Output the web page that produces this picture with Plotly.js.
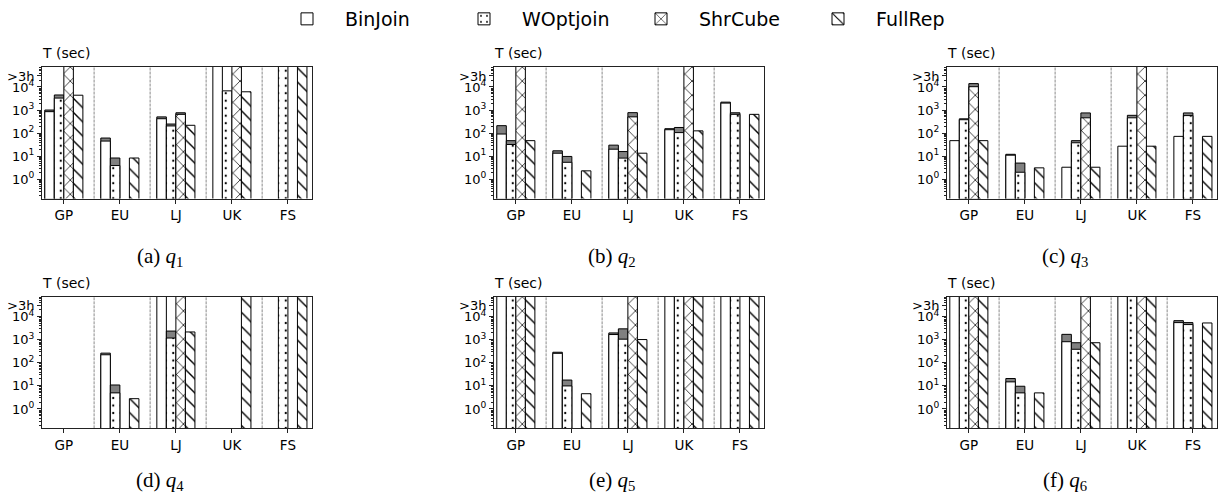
<!DOCTYPE html>
<html>
<head>
<meta charset="utf-8">
<script src="https://cdn.plot.ly/plotly-3.0.1.min.js"></script>
<style>html,body{margin:0;padding:0;background:#fff;}#chart{width:1225px;height:502px;}</style>
</head>
<body>
<div id="chart"></div>
<script>
// ---------------- data ----------------
const categories = ['GP', 'EU', 'LJ', 'UK', 'FS'];
const methods = ['BinJoin', 'WOptjoin', 'ShrCube', 'FullRep'];
const TO = 1e6;   // ">3h" timeout: bar runs past the top of the axis
const N = null;   // not run

// rows: BinJoin, WOptjoin, ShrCube, FullRep ; columns: GP, EU, LJ, UK, FS
const q1_compute = [
  [850, 45, 420, TO, N],
  [3300, 3.9, 204, 6800, TO],
  [TO, N, 650, TO, N],
  [4400, 8.3, 218, 6200, TO]
];
const q1_total = [
  [1000, 61, 505, TO, N],
  [4500, 8.3, 247, 6800, TO],
  [TO, N, 760, TO, N],
  [4400, 8.3, 218, 6200, TO]
];

const q2_compute = [
  [91, 13.4, 20, 140, 2000],
  [32, 5.4, 8.2, 105, 650],
  [TO, N, 505, TO, N],
  [47, 2.3, 13.4, 125, 650]
];
const q2_total = [
  [210, 17, 30, 155, 2200],
  [47, 9.7, 15.8, 175, 760],
  [TO, N, 770, TO, N],
  [47, 2.3, 13.4, 125, 650]
];

const q3_compute = [
  [47, 11, 3.3, 27, 72],
  [380, 2.0, 38, 460, 575],
  [10300, N, 460, TO, N],
  [47, 3.1, 3.3, 27, 72]
];
const q3_total = [
  [47, 12, 3.3, 27, 72],
  [415, 5.0, 47, 590, 750],
  [14000, N, 750, TO, N],
  [47, 3.1, 3.3, 27, 72]
];

const q4_compute = [
  [N, 225, TO, N, N],
  [N, 5.0, 1200, N, TO],
  [N, N, TO, N, N],
  [N, 2.8, 2200, TO, TO]
];
const q4_total = [
  [N, 265, TO, N, N],
  [N, 11, 2400, N, TO],
  [N, N, TO, N, N],
  [N, 2.8, 2200, TO, TO]
];

const q5_compute = [
  [TO, 260, 1700, TO, TO],
  [TO, 10, 1070, TO, TO],
  [TO, N, TO, TO, N],
  [TO, 4.6, 1030, TO, TO]
];
const q5_total = [
  [TO, 290, 2000, TO, TO],
  [TO, 18, 3000, TO, TO],
  [TO, N, TO, TO, N],
  [TO, 4.6, 1030, TO, TO]
];

const q6_compute = [
  [TO, 15, 830, TO, 5600],
  [TO, 5.0, 390, TO, 4600],
  [TO, N, TO, TO, N],
  [TO, 5.0, 750, TO, 5400]
];
const q6_total = [
  [TO, 21, 1730, TO, 6800],
  [TO, 9.7, 750, TO, 5600],
  [TO, N, TO, TO, N],
  [TO, 5.0, 750, TO, 5400]
];

const yTickVals = [1, 10, 100, 1000, 10000, 30000];
const yTickText = ['10<sup>0</sup>', '10<sup>1</sup>', '10<sup>2</sup>', '10<sup>3</sup>', '10<sup>4</sup>', '>3h'];
const captionLetters = ['a', 'b', 'c', 'd', 'e', 'f'];

// ---------------- layout helpers ----------------
const W = 1225, H = 502;
const colPx = [[42, 312], [494, 764], [947, 1217]];
const rowPx = [[59, 193], [293, 427]];
const captionX = [160, 612, 1065];
const captionY = [253, 481];
const SEP_OFFSET = 0.54;

const panels = [
  [q1_compute, q1_total], [q2_compute, q2_total], [q3_compute, q3_total],
  [q4_compute, q4_total], [q5_compute, q5_total], [q6_compute, q6_total]
];

const patternStyle = {
  BinJoin:  {shape: ''},
  WOptjoin: {shape: '.', size: 7.5, solidity: 0.07},
  ShrCube:  {shape: 'x', size: 10, solidity: 0.14},
  FullRep:  {shape: '\\', size: 10, solidity: 0.14}
};

const traces = [];
const layout = {
  width: W, height: H,
  margin: {l: 0, r: 0, t: 0, b: 0},
  paper_bgcolor: '#fff', plot_bgcolor: '#fff',
  font: {family: 'DejaVu Sans', size: 13, color: '#000'},
  barmode: 'group', bargap: 0.32, bargroupgap: 0,
  showlegend: true,
  legend: {
    orientation: 'h', x: 269 / W, xanchor: 'left', y: 1 - 10 / H, yanchor: 'middle',
    font: {family: 'DejaVu Sans', size: 19, color: '#000'},
    itemwidth: 66, entrywidth: 96, entrywidthmode: 'pixels', bgcolor: 'rgba(0,0,0,0)'
  },
  shapes: [], annotations: []
};

panels.forEach((p, k) => {
  const [comp, tot] = p;
  const r = Math.floor(k / 3), c = k % 3;
  const xa = k === 0 ? 'x' : 'x' + (k + 1);
  const ya = k === 0 ? 'y' : 'y' + (k + 1);
  const xkey = k === 0 ? 'xaxis' : 'xaxis' + (k + 1);
  const ykey = k === 0 ? 'yaxis' : 'yaxis' + (k + 1);

  methods.forEach((m, mi) => {
    // communication (grey) part: drawn first, full height to total
    const grey = tot[mi].map((t, i) => (t !== null && comp[mi][i] !== null && t > comp[mi][i]) ? t : null);
    traces.push({
      type: 'bar', x: categories, y: grey, xaxis: xa, yaxis: ya,
      offsetgroup: m, name: m + ' comm', showlegend: false, hoverinfo: 'skip',
      marker: {color: '#808080', line: {color: '#000', width: 1}}
    });
    const ps = patternStyle[m];
    const pat = ps.shape ? {shape: ps.shape, size: ps.size, solidity: ps.solidity, fgcolor: '#000', bgcolor: '#fff', fillmode: 'replace'} : {shape: ''};
    traces.push({
      type: 'bar', x: categories, y: comp[mi], xaxis: xa, yaxis: ya,
      offsetgroup: m, name: m, showlegend: k === 0, legendgroup: m,
      marker: {color: '#fff', line: {color: '#000', width: 1}, pattern: pat}
    });
  });

  layout[xkey] = {
    domain: [colPx[c][0] / W, colPx[c][1] / W],
    anchor: ya, type: 'category', range: [-0.39, 4.43],
    showline: true, mirror: true, linecolor: '#222', linewidth: 1,
    ticks: 'outside', ticklen: 4, tickcolor: '#222', showgrid: false, zeroline: false,
    tickfont: {size: 13.5}, fixedrange: true
  };
  const minorVals = [];
  for (let e = -1; e <= 4; e++) for (let d = 2; d <= 9; d++) minorVals.push(d * Math.pow(10, e));
  layout[ykey] = {
    domain: [1 - rowPx[r][1] / H, 1 - rowPx[r][0] / H],
    anchor: xa, type: 'log', range: [-0.84, 4.87],
    showline: true, mirror: true, linecolor: '#222', linewidth: 1,
    tickmode: 'array', tickvals: yTickVals, ticktext: yTickText,
    ticks: 'outside', ticklen: 4, tickcolor: '#222', showgrid: false, zeroline: false,
    tickfont: {size: 13}, fixedrange: true,
    minor: {tickmode: 'array', tickvals: minorVals, ticks: 'outside', ticklen: 2, tickcolor: '#222', showgrid: false}
  };

  // dashed separators between dataset groups
  for (let i = 0; i < categories.length - 1; i++) {
    layout.shapes.push({
      type: 'line', xref: xa, yref: ya + ' domain', x0: i + SEP_OFFSET, x1: i + SEP_OFFSET, y0: 0, y1: 1,
      line: {color: '#8a8a8a', width: 1, dash: '3px,1px'}, layer: 'below'
    });
  }

  // axis title "T (sec)" above the axis
  layout.annotations.push({
    text: 'T (sec)', xref: xa + ' domain', yref: ya + ' domain', x: 0, y: 1,
    xanchor: 'left', yanchor: 'bottom', xshift: -2, yshift: 4, showarrow: false,
    font: {family: 'DejaVu Sans', size: 14, color: '#000'}
  });

  // caption
  layout.annotations.push({
    text: '(' + captionLetters[k] + ') <i>q</i><sub>' + (k + 1) + '</sub>',
    xref: 'paper', yref: 'paper', x: captionX[c] / W, y: 1 - captionY[r] / H,
    xanchor: 'center', yanchor: 'middle', showarrow: false,
    font: {family: 'Liberation Serif', size: 21, color: '#000'}
  });
});

Plotly.newPlot('chart', traces, layout, {displayModeBar: false, staticPlot: true});
</script>
</body>
</html>
